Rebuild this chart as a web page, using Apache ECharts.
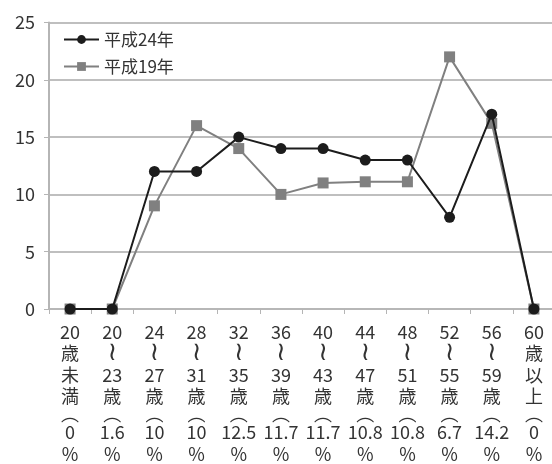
<!DOCTYPE html>
<html><head><meta charset="utf-8">
<script src="https://cdn.jsdelivr.net/npm/echarts@6/dist/echarts.min.js"></script>
<style>html,body{margin:0;padding:0;background:#fff}#c{width:552px;height:464px}</style>
</head><body><div id="c"></div>
<script>
// Data
const ageFrom = ['20','20','24','28','32','36','40','44','48','52','56','60'];
const ageTo   = ['未満','23','27','31','35','39','43','47','51','55','59','以上'];
const shares  = ['0','1.6','10','10','12.5','11.7','11.7','10.8','10.8','6.7','14.2','0'];
const categories = ageFrom.map((a,i)=>a+'|'+ageTo[i]+'|'+shares[i]);
const h24 = [0,0,12,12,15,14,14,13,13,8,17,0];
const h19 = [0,0,9,16,14,10,11,11.1,11.1,22,16.2,0];
const yTicks = [0,5,10,15,20,25];

function vlabel(v){
  const [from,to,share]=v.split('|');
  let lines;
  if(to==='未満') lines=[from,'歳','未','満'];
  else if(to==='以上') lines=[from,'歳','以','上'];
  else lines=[from,'{w|≀}',to,'歳'];
  lines=lines.concat(['{p|︵}','{s|'+share+'}','{c|%}','︶']);
  return lines.join('\n');
}

const chart = echarts.init(document.getElementById('c'));
chart.setOption({
  animation:false,
  textStyle:{fontFamily:'"Noto Sans CJK JP","Noto Sans",sans-serif'},
  grid:{left:49, top:22.5, width:506, height:286.5, outerBoundsMode:'none', containLabel:false},
  legend:{
    orient:'vertical', left:58, top:26, itemWidth:35, itemHeight:11, itemGap:10,
    textStyle:{fontSize:17, color:'#333'},
    data:['平成24年','平成19年']
  },
  xAxis:{
    type:'category', data:categories, boundaryGap:true,
    axisLine:{lineStyle:{color:'#b5b5b5', width:1.5}},
    axisTick:{show:true, length:5, lineStyle:{color:'#b5b5b5'}},
    axisLabel:{formatter:vlabel, fontSize:18, lineHeight:21.5, color:'#333', margin:12, interval:0,
      rich:{
        w:{fontSize:26, lineHeight:21.5, color:'#333', fontFamily:'DejaVu Sans'},
        p:{fontSize:18, lineHeight:14, color:'#333'},
        s:{fontSize:18, lineHeight:22, color:'#333'},
        c:{fontSize:18, lineHeight:21.5, color:'#333'}
      }}
  },
  yAxis:{
    type:'value', min:yTicks[0], max:yTicks[yTicks.length-1], interval:5,
    axisLine:{show:true, lineStyle:{color:'#b5b5b5', width:2}},
    axisTick:{show:true, length:5, lineStyle:{color:'#b5b5b5'}},
    splitLine:{lineStyle:{color:'#aaaaaa', width:1.5}},
    axisLabel:{fontSize:18, color:'#333', margin:14}
  },
  series:[
    {name:'平成19年', type:'line', data:h19, symbol:'rect', symbolSize:11,
     lineStyle:{color:'#808080', width:2}, itemStyle:{color:'#808080'}, z:2},
    {name:'平成24年', type:'line', data:h24, symbol:'circle', symbolSize:11,
     lineStyle:{color:'#1c1c1c', width:2}, itemStyle:{color:'#1c1c1c'}, z:3}
  ]
});
</script></body></html>
